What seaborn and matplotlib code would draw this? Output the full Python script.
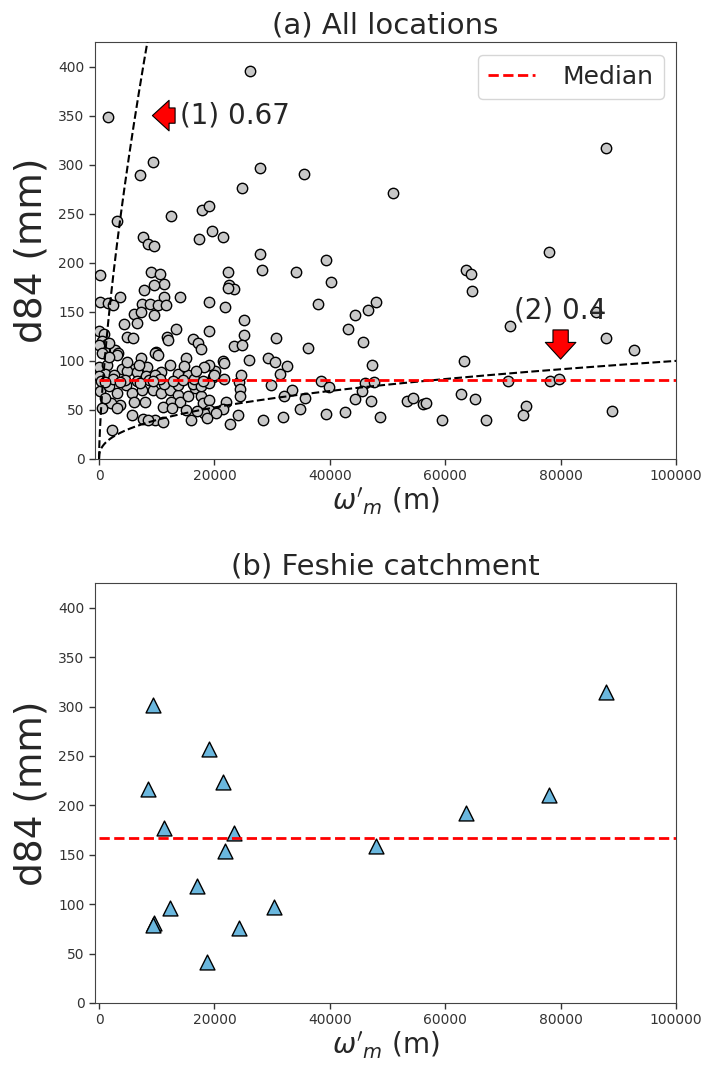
import numpy as np
import pandas as pd
import matplotlib
matplotlib.use("Agg")
import matplotlib.pyplot as plt
import seaborn as sns

# ---------------- data ----------------
# (a) all locations: omega'_m (m) and d84 (mm)
all_x = [26250, 1600, 87800, 9300, 27900, 7100, 35500, 24800, 51000, 3100,
         12400, 17900, 19000, 17300, 19500, 21500, 7600, 8500, 9500, 78000,
         27900, 39400, 100, 9000, 10600, 22400, 28200, 34200, 63600, 64500,
         40200, 11200, 9500, 22600, 23400, 22300, 64600, 7800, 3600, 14000,
         11300, 200, 1600, 2500, 7500, 8800, 10200, 11600, 19000, 21800,
         38000, 48000, 46600, 44400, 6100, 7300, 9500, 4400, 6500, 25200,
         71300, 0, 900, 13400, 19000, 43200, 4800, 5900, 11700, 16300,
         17100, 17600, 25200, 30700, 45800, 87800, 36300, 92700, 500, 1400,
         800, 2700, 3200, 9800, 23400, 24800,
         26000, 29300, 30500, 32600, 31300, 47300, 63300, 38400, 39800, 70900,
         78100, 79700, 46100, 47700, 29800, 33500, 32100, 35700, 45500, 62700,
         65200, 44400, 47200, 53300, 54400, 56100, 56700, 74000, 73500, 88900,
         34800, 39400, 42700, 48750, 59500, 67000, 31900, 28400, 24100, 22700,
         24200, 24500, 24400, 24600, 21950, 21400, 21600, 21500, 20100, 19700,
         86200,
         0, 1700, 500, 3100, 7200, 0, 1400, 4000, 6000, 8300,
         1100, 200, 1700, 3100, 4600, 5700, 7500, 8000, 6000, 3700,
         2000, 500, 1100, 3100, 5700, 7700, 2250,
         0, 2600, 4900, 6500, 8200, 300, 2500, 4500, 6500, 8600,
         1000, 3600, 7100,
         9650, 10200, 15100, 12300, 10800, 9650, 13700, 15400, 16600, 9400,
         10800, 12300, 13700, 12500, 11100, 14000, 15400, 17700, 18000, 9650,
         11100, 15100, 16000, 8500,
         11300, 13600, 16300, 17700, 19100, 10500, 12800, 14500, 16500, 18000,
         9400,
         19100, 21700, 18200, 19900, 19100, 19100, 20200, 18200, 18700,
         4800, 6900, 14700, 16800, 12000, 1700, 12600, 17000]
all_y = [395, 349, 317, 303, 297, 289, 290, 276, 271, 243,
         248, 254, 258, 224, 232, 226, 226, 219, 217, 211,
         209, 203, 188, 191, 189, 191, 193, 191, 193, 189,
         180, 178, 177, 177, 173, 174, 171, 172, 165, 165,
         165, 160, 159, 157, 158, 158, 157, 157, 160, 155,
         158, 160, 152, 147, 148, 150, 147, 138, 139, 142,
         136, 130, 127, 132, 130, 132, 124, 123, 124, 122,
         118, 112, 126, 123, 119, 123, 113, 111, 120, 117,
         111, 111, 108, 109, 115, 116,
         101, 103, 99, 95, 87, 96, 100, 79, 73, 80,
         80, 82, 77, 78, 75, 70, 64, 62, 69, 66,
         61, 61, 59, 59, 62, 56, 57, 54, 45, 49,
         51, 46, 48, 43, 40, 40, 43, 40, 45, 36,
         78, 71, 64, 86, 58, 51, 82, 100, 90, 84,
         150,
         116, 118, 108, 106, 103, 94, 96, 92, 92, 94,
         87, 69, 74, 67, 75, 67, 70, 58, 58, 55,
         57, 52, 62, 52, 45, 41, 30,
         85, 86, 90, 89, 85, 80, 82, 81, 80, 81,
         78, 78, 77,
         108, 106, 103, 96, 89, 86, 87, 86, 72, 70,
         67, 70, 65, 58, 53, 58, 64, 64, 57, 40,
         38, 50, 40, 40,
         76, 75, 76, 74, 77, 82, 80, 81, 82, 79,
         80,
         96, 98, 94, 86, 60, 50, 47, 47, 42,
         99, 96, 95, 90, 121, 104, 52, 49]

# (b) Feshie catchment
feshie_x = [9300, 19000, 21500, 8400, 11250, 23400, 21800, 48000, 63600, 78000,
            87800, 17000, 12300, 30400, 9450, 9300, 24300, 18700]
feshie_y = [302, 257, 224, 217, 177, 172, 154, 159, 192, 210,
            315, 118, 96, 97, 81, 79, 76, 41]

median_all = 81
median_feshie = 167
exponents = [0.67, 0.4]
annot_labels = ["(1) 0.67", "(2) 0.4"]
x_range = [0, 100000]
y_max = 425

df_all = pd.DataFrame({"x": all_x, "y": all_y})
df_fes = pd.DataFrame({"x": feshie_x, "y": feshie_y})

# ---------------- style ----------------
sns.set_style("ticks")
plt.rcParams['font.family'] = ['DejaVu Sans']
plt.rcParams['axes.edgecolor'] = '#444444'
plt.rcParams['xtick.color'] = '#333333'
plt.rcParams['ytick.color'] = '#333333'

W, H = 705, 1069
fig = plt.figure(figsize=(W / 100, H / 100), dpi=100)
L, R = 95, 676
ax1 = fig.add_axes([L / W, 1 - 459 / H, (R - L) / W, (459 - 42) / H])
ax2 = fig.add_axes([L / W, 1 - 1003 / H, (R - L) / W, (1003 - 583) / H])

# ---- panel (a) ----
sns.scatterplot(data=df_all, x="x", y="y", ax=ax1, s=56, color="#c8c8c8",
                edgecolor="black", linewidth=1.0, zorder=3, legend=False)
xs = np.linspace(x_range[0], x_range[1], 4000)
for e in exponents:
    ax1.plot(xs, xs ** e, color="black", ls="--", lw=1.5, zorder=4)
ax1.hlines(median_all, x_range[0], x_range[1], colors="red", linestyles="--",
           lw=2, zorder=5, label="Median")

arrow_kw = dict(facecolor="red", edgecolor="black", lw=0.8, width=11,
                headwidth=22, headlength=12, shrink=0.05)
ax1.annotate(annot_labels[0], xy=(9000, 350), xytext=(14000, 350),
             fontsize=20, ha="left", va="center", arrowprops=arrow_kw, zorder=6)
ax1.annotate(annot_labels[1], xy=(80000, 100), xytext=(80000, 151),
             fontsize=20, ha="center", va="center", arrowprops=arrow_kw, zorder=6)

ax1.legend(loc="upper right", fontsize=18, handlelength=1.9, handletextpad=1.1)
ax1.set_title("(a) All locations", fontsize=21)

# ---- panel (b) ----
sns.scatterplot(data=df_fes, x="x", y="y", ax=ax2, s=115, marker="^",
                color="#6ab7de", edgecolor="black", linewidth=1.0, zorder=3,
                legend=False)
ax2.hlines(median_feshie, x_range[0], x_range[1], colors="red",
           linestyles="--", lw=2, zorder=5)
ax2.set_title("(b) Feshie catchment", fontsize=21)

for ax in (ax1, ax2):
    ax.set_xlim(-700, x_range[1])
    ax.set_ylim(0, y_max)
    ax.set_xticks(np.arange(0, 100001, 20000))
    ax.set_yticks(np.arange(0, 401, 50))
    ax.tick_params(labelsize=10, length=4, width=1)
    ax.set_xlabel(r"$\omega'_m$ (m)", fontsize=20, labelpad=2)
    ax.set_ylabel("d84 (mm)", fontsize=27, labelpad=6)

fig.savefig("out.png", dpi=100)
